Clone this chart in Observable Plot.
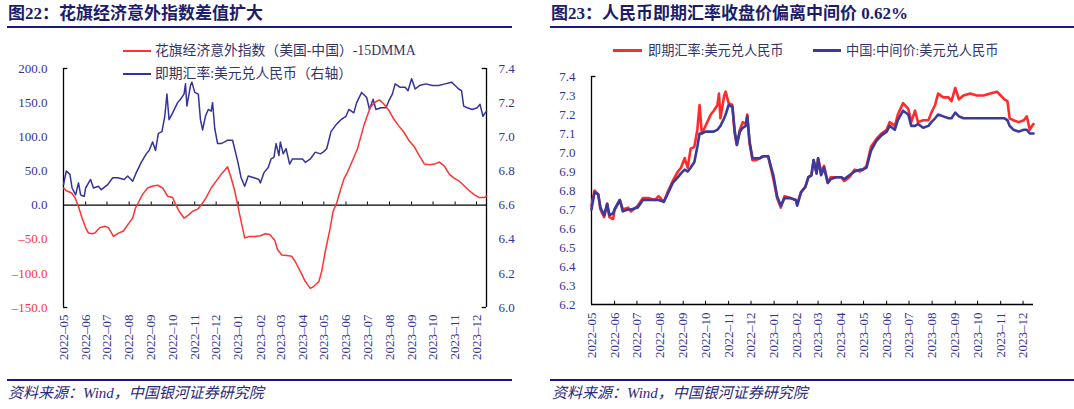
<!DOCTYPE html>
<html><head><meta charset="utf-8">
<script src="https://cdn.jsdelivr.net/npm/d3@7"></script>
<script src="https://cdn.jsdelivr.net/npm/@observablehq/plot@0.6"></script>
<style>
body{margin:0;background:#fff;}
#page{position:relative;width:1074px;height:409px;overflow:hidden;font-family:"Liberation Serif","Noto Sans CJK SC",serif;background:#fff;}
.title{position:absolute;top:4px;font-weight:bold;font-size:17px;line-height:20px;color:#1c1c6b;white-space:nowrap;}
.hr{position:absolute;height:1.5px;background:#1a1a80;}
.src{position:absolute;top:385px;font-style:italic;font-size:15px;line-height:16px;color:#2a2a7a;white-space:nowrap;}
.panel{position:absolute;top:0;}
.leg{position:absolute;color:#33336b;white-space:nowrap;line-height:16px;}
.sw{position:absolute;}
</style></head>
<body>
<div id="page">
  <div class="title" style="left:8px">图22：花旗经济意外指数差值扩大</div>
  <div class="title" style="left:551px">图23：人民币即期汇率收盘价偏离中间价 0.62%</div>
  <div class="hr" style="left:7px;width:505px;top:26px"></div>
  <div class="hr" style="left:550px;width:524px;top:26px"></div>
  <div id="left" class="panel" style="left:0"></div>
  <div id="right" class="panel" style="left:537px"></div>
  <div class="hr" style="left:7px;width:505px;top:379px"></div>
  <div class="hr" style="left:550px;width:524px;top:379px"></div>
  <div class="src" style="left:8px">资料来源：Wind，中国银河证券研究院</div>
  <div class="src" style="left:552px">资料来源：Wind，中国银河证券研究院</div>

  <div class="sw" style="left:123px;top:50px;width:28px;height:1.5px;background:#ff3333"></div>
  <div class="leg" style="left:155px;top:43px;font-size:13.8px">花旗经济意外指数（美国-中国）-15DMMA</div>
  <div class="sw" style="left:123px;top:73px;width:28px;height:1.5px;background:#333399"></div>
  <div class="leg" style="left:155px;top:66px;font-size:13.8px">即期汇率:美元兑人民币（右轴）</div>

  <div class="sw" style="left:613px;top:49px;width:29px;height:3px;background:#ff2a2a"></div>
  <div class="leg" style="left:648px;top:43px;font-size:13.2px">即期汇率:美元兑人民币</div>
  <div class="sw" style="left:813px;top:49px;width:28px;height:3px;background:#3a3a9e"></div>
  <div class="leg" style="left:846px;top:43px;font-size:13.2px">中国:中间价:美元兑人民币</div>
</div>
<script>
// ---- data ----
const fxDates = ["2022-05-01","2022-05-05","2022-05-10","2022-05-13","2022-05-18","2022-05-22","2022-05-25","2022-05-30",
"2022-06-01","2022-06-08","2022-06-12","2022-06-19","2022-06-23","2022-07-02","2022-07-09","2022-07-16","2022-07-25","2022-07-30",
"2022-08-06","2022-08-11","2022-08-18","2022-08-25","2022-08-29","2022-09-03","2022-09-07","2022-09-11","2022-09-16","2022-09-20",
"2022-09-23","2022-09-26","2022-10-01","2022-10-08","2022-10-12","2022-10-17","2022-10-19","2022-10-21","2022-10-26","2022-10-28",
"2022-11-01","2022-11-06","2022-11-09","2022-11-12","2022-11-16","2022-11-20","2022-11-24","2022-11-26","2022-11-29","2022-12-03",
"2022-12-08","2022-12-13","2022-12-17","2022-12-24","2022-12-31","2023-01-05","2023-01-10","2023-01-15","2023-01-23","2023-01-30",
"2023-02-01","2023-02-06","2023-02-12","2023-02-16","2023-02-20","2023-02-23","2023-02-27","2023-03-01","2023-03-05","2023-03-09",
"2023-03-14","2023-03-18","2023-03-25","2023-04-01","2023-04-05","2023-04-12","2023-04-19","2023-04-26","2023-04-30","2023-05-05",
"2023-05-11","2023-05-18","2023-05-25","2023-06-01","2023-06-05","2023-06-12","2023-06-16","2023-06-23","2023-06-30","2023-07-04",
"2023-07-09","2023-07-13","2023-07-20","2023-07-27","2023-07-31","2023-08-05","2023-08-09","2023-08-16","2023-08-23","2023-08-27",
"2023-09-01","2023-09-06","2023-09-12","2023-09-21","2023-09-30","2023-10-09","2023-10-18","2023-10-27","2023-11-01","2023-11-06",
"2023-11-10","2023-11-13","2023-11-18","2023-11-25","2023-12-02","2023-12-06","2023-12-10","2023-12-13","2023-12-15"];
const fxSpot = [6.72,6.80,6.78,6.70,6.66,6.73,6.66,6.65,
6.70,6.75,6.70,6.71,6.69,6.72,6.76,6.76,6.75,6.77,
6.74,6.79,6.85,6.90,6.92,6.97,6.92,7.02,7.03,7.12,
7.25,7.10,7.14,7.20,7.22,7.25,7.31,7.18,7.30,7.32,
7.26,7.25,7.10,7.04,7.12,7.16,7.15,7.20,7.05,6.96,
6.96,6.97,6.98,6.98,6.86,6.76,6.71,6.77,6.76,6.75,
6.73,6.79,6.82,6.87,6.88,6.96,6.89,6.97,6.90,6.93,
6.84,6.87,6.87,6.87,6.85,6.87,6.91,6.90,6.91,6.93,
7.03,7.07,7.10,7.12,7.16,7.14,7.20,7.26,7.23,7.16,
7.22,7.16,7.17,7.17,7.21,7.25,7.31,7.29,7.29,7.27,
7.34,7.28,7.30,7.31,7.30,7.30,7.31,7.32,7.30,7.28,
7.27,7.18,7.17,7.16,7.17,7.19,7.12,7.14,7.15];
const fxMid = [6.70,6.79,6.78,6.71,6.67,6.73,6.67,6.68,
6.70,6.75,6.69,6.70,6.70,6.71,6.75,6.75,6.75,6.75,
6.74,6.78,6.84,6.87,6.89,6.91,6.90,6.92,6.95,7.03,
7.10,7.10,7.11,7.11,7.11,7.12,7.13,7.14,7.18,7.20,
7.25,7.24,7.12,7.04,7.11,7.13,7.14,7.19,7.06,6.97,
6.97,6.97,6.98,6.98,6.88,6.77,6.72,6.76,6.76,6.75,
6.72,6.79,6.82,6.87,6.88,6.96,6.89,6.97,6.88,6.92,
6.84,6.86,6.87,6.87,6.86,6.88,6.90,6.91,6.91,6.92,
7.01,7.06,7.09,7.11,7.14,7.12,7.17,7.22,7.20,7.14,
7.14,7.15,7.13,7.14,7.16,7.18,7.20,7.19,7.18,7.18,
7.21,7.19,7.18,7.18,7.18,7.18,7.18,7.18,7.18,7.18,
7.17,7.14,7.12,7.11,7.12,7.12,7.10,7.10,7.10];

const citiDates = ["2022-05-01","2022-05-05","2022-05-12","2022-05-17","2022-05-22","2022-05-27","2022-06-01","2022-06-05","2022-06-10",
"2022-06-14","2022-06-21","2022-06-28","2022-07-03","2022-07-10","2022-07-17","2022-07-24","2022-08-01","2022-08-06","2022-08-10",
"2022-08-15","2022-08-20","2022-08-27","2022-09-03","2022-09-10","2022-09-17","2022-09-24","2022-10-01","2022-10-05","2022-10-10",
"2022-10-17","2022-10-24","2022-10-29","2022-11-05","2022-11-10","2022-11-17","2022-11-24","2022-12-01","2022-12-08","2022-12-12",
"2022-12-17","2022-12-22","2022-12-27","2023-01-01","2023-01-05","2023-01-10","2023-01-17","2023-01-24","2023-02-01","2023-02-08",
"2023-02-14","2023-02-21","2023-02-25","2023-03-03","2023-03-10","2023-03-17","2023-03-22","2023-03-29","2023-04-05","2023-04-12",
"2023-04-17","2023-04-24","2023-04-28","2023-05-03","2023-05-10","2023-05-14","2023-05-19","2023-05-24","2023-05-29","2023-06-03",
"2023-06-10","2023-06-17","2023-06-21","2023-06-26","2023-07-01","2023-07-05","2023-07-12","2023-07-18","2023-07-24","2023-07-31",
"2023-08-07","2023-08-14","2023-08-21","2023-08-28","2023-09-05","2023-09-12","2023-09-19","2023-09-26","2023-10-03","2023-10-10",
"2023-10-17","2023-10-24","2023-10-31","2023-11-07","2023-11-14","2023-11-21","2023-11-28","2023-12-05","2023-12-12","2023-12-15"];
const citiDiff = [25,21,18,11,-2,-19,-33,-41,-42,
-41,-33,-31,-33,-46,-41,-38,-26,-19,-4,
6,16,25,28,29,25,13,11,1,-9,
-19,-14,-9,-6,0,11,25,35,45,50,
56,40,21,-4,-24,-48,-46,-46,-45,-42,
-43,-51,-65,-73,-74,-75,-83,-97,-112,-122,
-119,-112,-97,-68,-33,-9,3,21,38,48,
65,82,97,116,131,143,151,154,148,139,
126,116,107,95,85,72,60,59,60,63,
57,45,39,35,28,21,15,11,11,13];

const leftAxisTicks = [200,150,100,50,0,-50,-100,-150];
const rightAxisTicks = [7.4,7.2,7.0,6.8,6.6,6.4,6.2,6.0];
const rightPanelTicks = [7.4,7.3,7.2,7.1,7.0,6.9,6.8,6.7,6.6,6.5,6.4,6.3,6.2];
const startDate = "2022-05-01", endDate = "2023-12-15";

// ---- build ----
const parse = d3.utcParse("%Y-%m-%d");
const fx = fxDates.map((d,i)=>({date:parse(d), spot:fxSpot[i], mid:fxMid[i]}));
const citi = citiDates.map((d,i)=>({date:parse(d), value:citiDiff[i]}));
const x0 = parse(startDate), x1 = parse(endDate);
const months = d3.utcMonths(x0, parse("2023-12-02"));
const toLeft = v => -150 + (v - 6.0) * 250;
const fromLeft = y => 6.0 + (y + 150) / 250;
const fmtY = d => d < 0 ? "–" + Math.abs(d).toFixed(1) : d.toFixed(1);
const fmtM = d => d3.utcFormat("%Y")(d) + "–" + d3.utcFormat("%m")(d);
const NAVY = "#333399", RED = "#ff3333";
const style = {fontFamily:'"Liberation Serif","Noto Sans CJK SC",serif', fontSize:"13px", overflow:"visible", background:"transparent"};

const left = Plot.plot({
  width:537, height:409, marginLeft:63, marginRight:51, marginTop:68, marginBottom:102,
  style,
  x:{type:"utc", domain:[x0,x1]},
  y:{domain:[-150,200]},
  marks:[
    Plot.ruleY([0], {stroke:"#000", strokeWidth:1.3}),
    Plot.ruleX(months.slice(1), {y1:0, y2:4.5, stroke:"#000", strokeWidth:1}),
    Plot.ruleX([x0], {stroke:"#000", strokeWidth:1.3}),
    Plot.ruleX([x1], {stroke:"#000", strokeWidth:1.3}),
    Plot.ruleY([200,-150], {x1:()=>x0, x2:()=>d3.utcDay.offset(x0,6), stroke:"#000", strokeWidth:1.3}),
    Plot.ruleY([200,-150], {x1:()=>d3.utcDay.offset(x1,-6), x2:()=>x1, stroke:"#000", strokeWidth:1.3}),
    Plot.axisY(leftAxisTicks.filter(d=>d>=0), {anchor:"left", tickSize:0, tickPadding:16, tickFormat:fmtY, fill:NAVY, label:null}),
    Plot.axisY(leftAxisTicks.filter(d=>d<0), {anchor:"left", tickSize:0, tickPadding:16, tickFormat:fmtY, fill:RED, label:null}),
    Plot.axisY(rightAxisTicks.map(toLeft), {anchor:"right", tickSize:0, tickPadding:12, tickFormat:d=>fromLeft(d).toFixed(1), fill:NAVY, label:null}),
    Plot.axisX(months, {anchor:"bottom", tickSize:0, tickPadding:7, tickRotate:-90, tickFormat:fmtM, fill:NAVY, label:null}),
    Plot.lineY(fx, {x:"date", y:d=>toLeft(d.spot), stroke:NAVY, strokeWidth:1.5}),
    Plot.lineY(citi, {x:"date", y:"value", stroke:RED, strokeWidth:1.5})
  ]
});
document.getElementById("left").appendChild(left);

const right = Plot.plot({
  width:537, height:409, marginLeft:54, marginRight:41, marginTop:76, marginBottom:105,
  style,
  x:{type:"utc", domain:[x0,x1]},
  y:{domain:[6.2,7.4]},
  marks:[
    Plot.ruleY([6.2], {stroke:"#000", strokeWidth:1.3}),
    Plot.ruleX([x0], {stroke:"#000", strokeWidth:1.3}),
    Plot.ruleX(months.slice(1), {y1:6.2, y2:6.217, stroke:"#000", strokeWidth:1}),
    Plot.ruleY([7.4], {x1:()=>x0, x2:()=>d3.utcDay.offset(x0,6), stroke:"#000", strokeWidth:1.3}),
    Plot.axisY(rightPanelTicks, {anchor:"left", tickSize:0, tickPadding:16, tickFormat:d=>d.toFixed(1), fill:NAVY, label:null}),
    Plot.axisX(months, {anchor:"bottom", tickSize:0, tickPadding:8, tickRotate:-90, tickFormat:fmtM, fill:NAVY, label:null}),
    Plot.lineY(fx, {x:"date", y:"spot", stroke:"#ff2a2a", strokeWidth:2.6}),
    Plot.lineY(fx, {x:"date", y:"mid", stroke:"#3a3a9e", strokeWidth:2.6})
  ]
});
document.getElementById("right").appendChild(right);
</script>
</body></html>
